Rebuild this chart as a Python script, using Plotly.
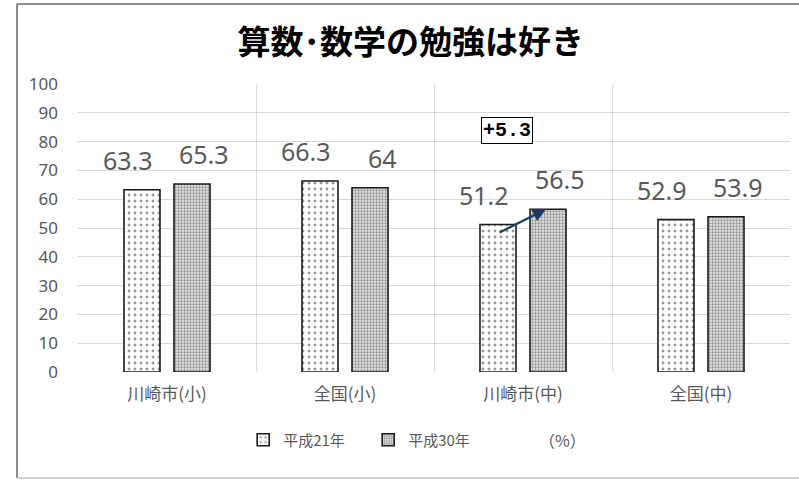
import plotly.graph_objects as go

categories = ["川崎市(小)", "全国(小)", "川崎市(中)", "全国(中)"]
series_names = ["平成21年", "平成30年"]
h21 = [63.3, 66.3, 51.2, 52.9]
h30 = [65.3, 64, 56.5, 53.9]
label_text_h21 = ["63.3", "66.3", "51.2", "52.9"]
label_text_h30 = ["65.3", "64", "56.5", "53.9"]
y_ticks = [0, 10, 20, 30, 40, 50, 60, 70, 80, 90, 100]
diff_label = "+5.3"
diff_category = "川崎市(中)"

FONT = "Noto Sans CJK JP"
GRAY = "#595959"

fig = go.Figure()
fig.add_trace(go.Bar(
    x=categories, y=h21, name=series_names[0],
    marker=dict(color="white", line=dict(color="#1a1a1a", width=1.6),
                pattern=dict(shape=".", fgcolor="#333333", bgcolor="white",
                             size=6, solidity=0.18)),
))
fig.add_trace(go.Bar(
    x=categories, y=h30, name=series_names[1],
    marker=dict(color="white", line=dict(color="#1a1a1a", width=1.6),
                pattern=dict(shape=".", fgcolor="#3a3a3a", bgcolor="#e6e6e6",
                             size=3, solidity=0.45)),
))

annotations = []
for c, v, t in zip(categories, h21, label_text_h21):
    annotations.append(dict(x=c, y=v, xref="x", yref="y", text=t, showarrow=False,
                            xshift=-25 - 14, yshift=30, font=dict(family="Noto Sans", size=25, color=GRAY)))
for c, v, t in zip(categories, h30, label_text_h30):
    annotations.append(dict(x=c, y=v, xref="x", yref="y", text=t, showarrow=False,
                            xshift=25 + 12, yshift=30, font=dict(family="Noto Sans", size=25, color=GRAY)))

i = categories.index(diff_category)
# arrow from 平成21年 bar to 平成30年 bar
annotations.append(dict(x=diff_category, y=h30[i], xref="x", yref="y", xshift=23,
                        ax=-48, ay=24, text="", showarrow=True, arrowhead=2,
                        arrowsize=1.2, arrowwidth=2.2, arrowcolor="#1f3864"))
annotations.append(dict(x=diff_category, y=83.7, xref="x", yref="y", xshift=-16,
                        text="<b>" + diff_label + "</b>", showarrow=False,
                        font=dict(family="Liberation Mono", size=20, color="black"),
                        bordercolor="black", borderwidth=1, borderpad=1, bgcolor="white"))
annotations.append(dict(x=0.681, y=-0.236, xref="paper", yref="paper", text="（%）",
                        showarrow=False, xanchor="center", yanchor="middle",
                        font=dict(family=FONT, size=16, color=GRAY)))

shapes = [
    dict(type="line", xref="paper", yref="paper", x0=-0.0857, x1=-0.0857, y0=-0.368, y1=1.278,
         line=dict(color="#8c8c8c", width=2)),
    dict(type="line", xref="paper", yref="paper", x0=-0.0857, x1=1.02, y0=1.278, y1=1.278,
         line=dict(color="#8c8c8c", width=2)),
    dict(type="line", xref="paper", yref="paper", x0=-0.0857, x1=1.02, y0=-0.368, y1=-0.368,
         line=dict(color="#d0d0d0", width=2)),
]

fig.update_layout(
    width=799, height=480,
    margin=dict(l=78, r=9, t=84, b=108),
    paper_bgcolor="white", plot_bgcolor="white",
    barmode="group", bargap=0.438, bargroupgap=0.28,
    title=dict(text="<b>算数･数学の勉強は好き</b>", x=0.514, xanchor="center", y=0.912, yanchor="middle",
               font=dict(family=FONT, size=33, color="black")),
    font=dict(family=FONT, color=GRAY),
    xaxis=dict(type="category", showgrid=True, gridcolor="#d9d9d9", gridwidth=1,
               tickson="boundaries", ticks="", showline=False, zeroline=False,
               tickfont=dict(family=FONT, size=17, color=GRAY), ticklabelstandoff=10),
    yaxis=dict(range=[0, 100], tickvals=y_ticks, showgrid=True, gridcolor="#d9d9d9", gridwidth=1,
               zeroline=False, showline=False, ticks="",
               tickfont=dict(family="Noto Sans", size=17, color=GRAY), ticklabelstandoff=19),
    legend=dict(orientation="h", x=0.232, xanchor="left", y=-0.236, yanchor="middle",
                font=dict(family=FONT, size=15, color=GRAY), itemwidth=30, traceorder="normal",
                entrywidth=80, entrywidthmode="pixels"),
    annotations=annotations,
    shapes=shapes,
)

fig.write_html("out.html")
